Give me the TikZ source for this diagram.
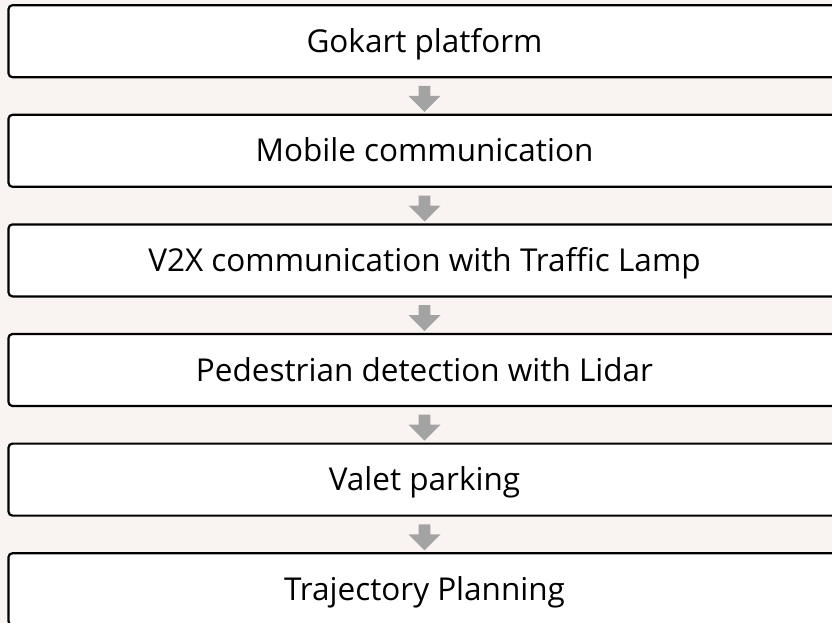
\documentclass[tikz,border=0pt]{standalone}
\usepackage{fontspec}
\setmainfont{Open Sans}
\usetikzlibrary{positioning,calc,shapes.arrows}

\definecolor{pagebg}{HTML}{F9F4F1}
\definecolor{arrowgray}{HTML}{A3A3A3}

\tikzset{
	stagebox/.style={draw=black,line width=2.2pt,fill=white,rounded corners=4pt,
		minimum width=832pt,minimum height=72pt,inner sep=0pt,
		text height=22pt,text depth=0pt,
		font=\fontsize{31.5}{36}\selectfont},
	downarrow/.style={single arrow,shape border rotate=270,fill=arrowgray,draw=none,
		minimum width=32pt,single arrow head extend=6.5pt,single arrow tip angle=90,
		minimum height=26pt,inner sep=3.5pt}
}

\begin{document}
\begin{tikzpicture}[x=1pt,y=-1pt,node distance=35.4pt]
			\useasboundingbox (0,0) rectangle (832,623);
			\fill[pagebg] (0,0) rectangle (832,623);
			\clip (0,0) rectangle (832,623);
			%
			\node[stagebox] at (424.5,41.2) (s1) {Gokart platform};
			\node[stagebox,below=of s1] (s2) {Mobile communication};
			\node[stagebox,below=of s2] (s3) {V2X communication with Traffic Lamp};
			\node[stagebox,below=of s3] (s4) {Pedestrian detection with Lidar};
			\node[stagebox,below=of s4] (s5) {Valet parking};
			\node[stagebox,below=of s5] (s6) {Trajectory Planning};
			%
			\foreach \a/\b in {s1/s2,s2/s3,s3/s4,s4/s5,s5/s6}
				\node[downarrow] at ($(\a.south)!0.5!(\b.north)$) (\a\b) {};
\end{tikzpicture}
\end{document}
